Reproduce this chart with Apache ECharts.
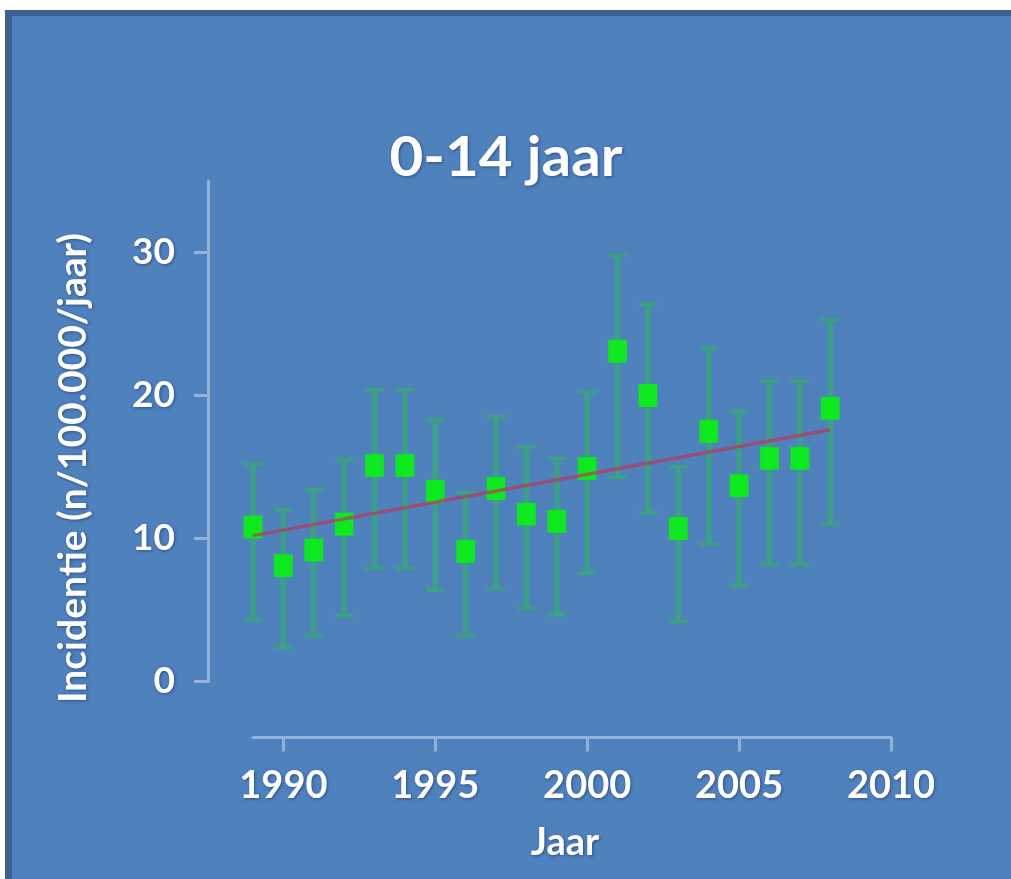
<!DOCTYPE html>
<html>
<head>
<meta charset="utf-8">
<script src="https://cdn.jsdelivr.net/npm/echarts@6/dist/echarts.min.js"></script>
<style>
  html, body { margin: 0; padding: 0; background: #ffffff; }
  #chart { width: 1011px; height: 879px; }
</style>
</head>
<body>
<div id="chart"></div>
<script>
// Incidence per year, age group 0-14, with confidence interval and linear trend
const years = [1989, 1990, 1991, 1992, 1993, 1994, 1995, 1996, 1997, 1998,
               1999, 2000, 2001, 2002, 2003, 2004, 2005, 2006, 2007, 2008];
const incidence = [10.8, 8.1, 9.2, 11.0, 15.1, 15.1, 13.3, 9.1, 13.5, 11.7,
                   11.2, 14.9, 23.1, 20.0, 10.7, 17.5, 13.7, 15.6, 15.6, 19.1];
const lower = [4.3, 2.4, 3.2, 4.6, 7.9, 7.9, 6.4, 3.2, 6.5, 5.1,
               4.7, 7.6, 14.3, 11.8, 4.2, 9.6, 6.7, 8.2, 8.2, 11.0];
const upper = [15.2, 12.0, 13.4, 15.5, 20.4, 20.4, 18.3, 13.2, 18.5, 16.4,
               15.6, 20.2, 29.8, 26.4, 15.0, 23.3, 18.9, 21.0, 21.0, 25.3];
const trendYears = [1989, 2008];
const trendValues = [10.2, 17.6];
const xTicks = [1990, 1995, 2000, 2005, 2010];
const yTicks = [0, 10, 20, 30];

const titleText = '0-14 jaar';
const xName = 'Jaar';
const yName = 'Incidentie (n/100.000/jaar)';

const FONT = 'Lato, "Open Sans", sans-serif';
const AXIS_COLOR = '#93b2da';
const BAR_COLOR = '#3c9f88';
const shadow = { textShadowColor: 'rgba(20,40,90,0.55)', textShadowBlur: 3, textShadowOffsetX: 1, textShadowOffsetY: 1 };

const chart = echarts.init(document.getElementById('chart'), null, { renderer: 'canvas' });

const option = {
  animation: false,
  backgroundColor: 'transparent',
  graphic: [
    { type: 'rect', z: -10, shape: { x: 5, y: 10, width: 1006, height: 869 }, style: { fill: '#4f81bd' } },
    { type: 'rect', z: -9, shape: { x: 5, y: 10, width: 1006, height: 6 }, style: { fill: '#3b6091' } },
    { type: 'rect', z: -9, shape: { x: 5, y: 10, width: 7, height: 869 }, style: { fill: '#3b6091' } },
    { type: 'text', x: 506, y: 158, scaleX: 1.06, z: 10,
      style: Object.assign({ text: titleText, fill: '#ffffff', font: 'bold 55px ' + FONT,
        align: 'center', verticalAlign: 'middle' }, shadow) },
    { type: 'text', x: 565, y: 843, z: 10,
      style: Object.assign({ text: xName, fill: '#ffffff', font: 'bold 38px ' + FONT,
        align: 'center', verticalAlign: 'middle' }, shadow) },
    { type: 'text', x: 73, y: 468, rotation: Math.PI / 2, z: 10,
      style: Object.assign({ text: yName, fill: '#ffffff', font: 'bold 39px ' + FONT,
        align: 'center', verticalAlign: 'middle' }, shadow) }
  ],
  grid: { left: 253, right: 120, top: 181, bottom: 197.5, containLabel: false },
  xAxis: {
    type: 'value', min: 1989, max: 2010, offset: 56,
    splitLine: { show: false },
    axisLine: { show: true, onZero: false, lineStyle: { color: AXIS_COLOR, width: 3 } },
    axisTick: { show: true, customValues: xTicks, length: 14, lineStyle: { color: AXIS_COLOR, width: 3 } },
    axisLabel: { customValues: xTicks, margin: 29, color: '#ffffff', fontFamily: FONT, fontWeight: 'bold',
      fontSize: 38, formatter: v => String(v), textShadowColor: shadow.textShadowColor,
      textShadowBlur: 3, textShadowOffsetX: 1, textShadowOffsetY: 1 }
  },
  yAxis: {
    type: 'value', min: 0, max: 35, offset: 45,
    splitLine: { show: false },
    axisLine: { show: true, onZero: false, lineStyle: { color: AXIS_COLOR, width: 3 } },
    axisTick: { show: true, customValues: yTicks, length: 14, lineStyle: { color: AXIS_COLOR, width: 3 } },
    axisLabel: { customValues: yTicks, margin: 33, color: '#ffffff', fontFamily: FONT, fontWeight: 'bold',
      fontSize: 37, textShadowColor: shadow.textShadowColor,
      textShadowBlur: 3, textShadowOffsetX: 1, textShadowOffsetY: 1 }
  },
  series: [
    {
      name: 'interval',
      type: 'custom',
      z: 2,
      data: years.map((y, i) => [y, lower[i], upper[i]]),
      encode: { x: 0, y: [1, 2] },
      renderItem: (params, api) => {
        const x = api.value(0);
        const pLo = api.coord([x, api.value(1)]);
        const pHi = api.coord([x, api.value(2)]);
        const hw = 9.5;
        const st = { stroke: BAR_COLOR, lineWidth: 5.5 };
        const cap = { stroke: BAR_COLOR, lineWidth: 4 };
        return {
          type: 'group',
          children: [
            { type: 'line', shape: { x1: pLo[0], y1: pLo[1], x2: pHi[0], y2: pHi[1] }, style: st },
            { type: 'line', shape: { x1: pHi[0] - hw, y1: pHi[1], x2: pHi[0] + hw, y2: pHi[1] }, style: cap },
            { type: 'line', shape: { x1: pLo[0] - hw, y1: pLo[1], x2: pLo[0] + hw, y2: pLo[1] }, style: cap }
          ]
        };
      }
    },
    {
      name: 'incidentie',
      type: 'scatter',
      z: 3,
      symbol: 'rect',
      symbolSize: [19, 23],
      itemStyle: { color: '#00ff00', borderColor: 'rgba(50,175,100,0.45)', borderWidth: 1 },
      data: years.map((y, i) => [y, incidence[i]])
    },
    {
      name: 'trend',
      type: 'line',
      z: 4,
      symbol: 'none',
      lineStyle: { color: 'rgba(180,60,90,0.72)', width: 3.5 },
      data: trendYears.map((y, i) => [y, trendValues[i]])
    }
  ]
};

chart.setOption(option);
</script>
</body>
</html>
